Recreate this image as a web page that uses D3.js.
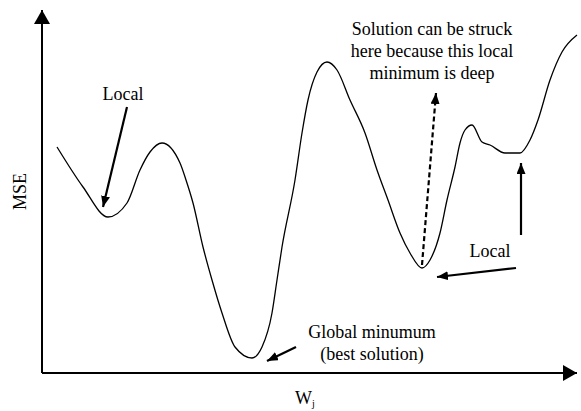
<!DOCTYPE html>
<html>
<head>
<meta charset="utf-8">
<script src="https://cdn.jsdelivr.net/npm/d3@7"></script>
<style>
  html, body { margin: 0; padding: 0; background: #fff; }
  svg { display: block; }
  text { font-family: "Liberation Serif", "Times New Roman", Times, "DejaVu Serif", serif; }
</style>
</head>
<body>
<svg id="chart" width="581" height="411"></svg>
<script>
// error surface (W and MSE in arbitrary units)
const wj  = [0.30, 0.82, 1.32, 1.70, 1.96, 2.16, 2.40, 2.76, 2.88, 3.02, 3.22, 3.40, 3.60, 3.86, 4.20, 4.40, 4.60, 4.70, 4.80, 5.06, 5.20, 5.32, 5.50, 5.70, 5.90, 6.16, 6.46, 6.70, 6.92, 7.16, 7.36, 7.60, 7.76, 7.96, 8.10, 8.26, 8.36, 8.46, 8.60, 8.80, 8.96, 9.26, 9.56, 9.76, 9.92, 10.16, 10.40, 10.70]
const mse = [4.52, 3.72, 3.12, 3.40, 4.06, 4.42, 4.60, 4.20, 3.86, 3.40, 2.52, 1.86, 1.20, 0.52, 0.30, 0.52, 1.20, 1.86, 2.52, 3.86, 4.80, 5.46, 6.02, 6.22, 6.06, 5.46, 4.80, 4.06, 3.46, 2.80, 2.40, 2.10, 2.26, 2.80, 3.46, 4.12, 4.60, 4.86, 4.96, 4.62, 4.56, 4.40, 4.40, 4.66, 5.06, 5.86, 6.42, 6.76]

// annotation arrows in data units, arrow head at the "to" end
const arrows = [
  { from: [1.70, 5.32], to: [1.22, 3.32], dashed: false },
  { from: [5.08, 0.52], to: [4.50, 0.24], dashed: false },
  { from: [9.48, 2.10], to: [7.90, 1.92], dashed: false },
  { from: [9.58, 2.76], to: [9.58, 4.20], dashed: false },
  { from: [7.60, 2.16], to: [7.88, 5.60], dashed: true }
]
const notes = [
  { lines: ['Local'], at: [1.62, 5.46] },
  { lines: ['Global minumum', '(best solution)'], at: [6.60, 0.70] },
  { lines: ['Local'], at: [8.96, 2.32] },
  { lines: ['Solution can be struck', 'here because this local', 'minimum is deep'], at: [7.80, 6.76] }
]

const svg = d3.select('#chart')
const x = d3.scaleLinear().domain([0, 10.7]).range([42, 577])
const y = d3.scaleLinear().domain([0, 7.26]).range([373, 10])

const defs = svg.append('defs')
defs.append('marker').attr('id','axisHead')
  .attr('viewBox','0 0 14 16').attr('refX',14).attr('refY',8)
  .attr('markerWidth',14).attr('markerHeight',16).attr('markerUnits','userSpaceOnUse')
  .attr('orient','auto')
  .append('path').attr('d','M0,0 L14,8 L0,16 Z').attr('fill','#000')
defs.append('marker').attr('id','noteHead')
  .attr('viewBox','0 0 11 9').attr('refX',11).attr('refY',4.5)
  .attr('markerWidth',11).attr('markerHeight',9).attr('markerUnits','userSpaceOnUse')
  .attr('orient','auto')
  .append('path').attr('d','M0,0 L11,4.5 L0,9 Z').attr('fill','#000')

// axes: plain lines with arrow heads, no ticks
const [x0, x1] = x.domain(), [y0, y1] = y.domain()
svg.append('line')
  .attr('x1', x(x0)).attr('y1', y(y0)).attr('x2', x(x0)).attr('y2', y(y1))
  .attr('stroke','#000').attr('stroke-width',2).attr('marker-end','url(#axisHead)')
svg.append('line')
  .attr('x1', x(x0)).attr('y1', y(y0)).attr('x2', x(x1)).attr('y2', y(y0))
  .attr('stroke','#000').attr('stroke-width',2).attr('marker-end','url(#axisHead)')

svg.append('text')
  .attr('transform', `translate(26,${y(y1/2)})rotate(-90)`)
  .attr('text-anchor','middle').attr('font-size',18).text('MSE')
const wl = svg.append('text').attr('x', x(5.06)).attr('y', 404).attr('font-size',18)
wl.append('tspan').text('W')
wl.append('tspan').attr('font-size',10).attr('dy',3).text('j')

// curve
const pts = wj.map((w, i) => [w, mse[i]])
svg.append('path')
  .datum(pts)
  .attr('fill','none').attr('stroke','#000').attr('stroke-width',1.3)
  .attr('d', d3.line().x(d => x(d[0])).y(d => y(d[1])).curve(d3.curveMonotoneX))

// annotation arrows
svg.selectAll('line.note').data(arrows).enter().append('line')
  .attr('class','note')
  .attr('x1', d => x(d.from[0])).attr('y1', d => y(d.from[1]))
  .attr('x2', d => x(d.to[0])).attr('y2', d => y(d.to[1]))
  .attr('stroke','#000').attr('stroke-width',2.2)
  .attr('stroke-dasharray', d => d.dashed ? '5,3' : null)
  .attr('marker-end','url(#noteHead)')

// annotation text
svg.selectAll('text.note').data(notes).enter().append('text')
  .attr('class','note')
  .attr('text-anchor','middle').attr('font-size',18)
  .each(function(d){
    d3.select(this).selectAll('tspan').data(d.lines).enter().append('tspan')
      .attr('x', x(d.at[0])).attr('y', (l, i) => y(d.at[1]) + i*22)
      .text(l => l)
  })
</script>
</body>
</html>
